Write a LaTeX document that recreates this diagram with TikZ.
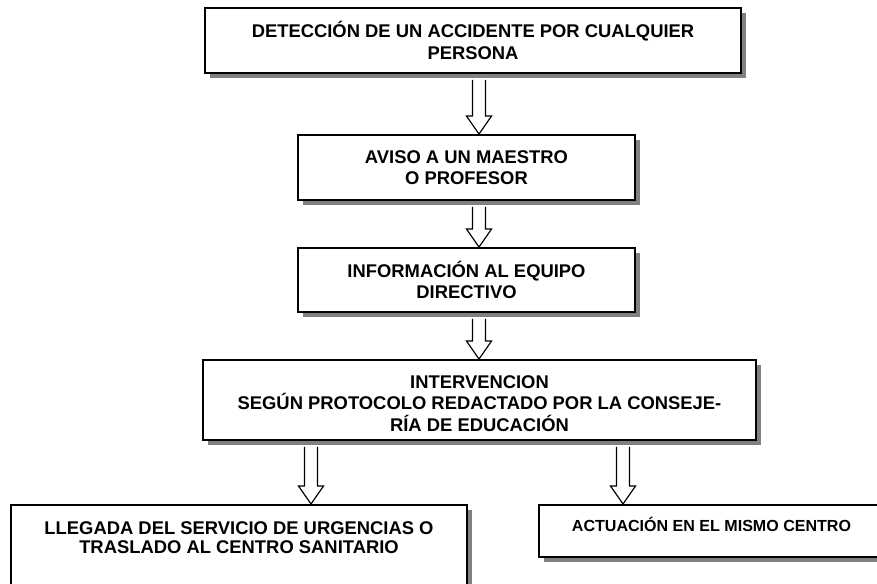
\documentclass[tikz,border=0pt]{standalone}
\usepackage{fontspec}
\setmainfont{Liberation Sans}
\usetikzlibrary{calc,positioning,shadows}

\begin{document}
\begin{tikzpicture}[x=0.03cm,y=-0.03cm]

\tikzset{box/.style={draw=black,line width=1.6pt,fill=white,align=center,inner sep=0pt,font=\fontsize{15.7}{18.5}\selectfont\bfseries,drop shadow={shadow xshift=0.15cm,shadow yshift=-0.15cm,fill=black!50,opacity=1}},
blockarrow/.style={line width=1pt,to path={let \p1=(\tikztostart), \p2=(\tikztotarget) in ({\x1-0.195cm},{\y1-0.18cm}) -- ({\x1-0.195cm},{\y2+0.54cm}) -- ({\x1-0.375cm},{\y2+0.54cm}) -- (\x1,\y2) -- ({\x1+0.375cm},{\y2+0.54cm}) -- ({\x1+0.195cm},{\y2+0.54cm}) -- ({\x1+0.195cm},{\y1-0.18cm})}}}

\useasboundingbox (0,0) rectangle (877,583);

% Boxes
\node[box,minimum width=16.08cm,minimum height=1.95cm] (b1) at (473,40.5) {DETECCIÓN DE UN ACCIDENTE POR CUALQUIER\\PERSONA};
\node[box,minimum width=10.11cm,minimum height=1.95cm] (b2) at (466.5,167.5) {AVISO A UN MAESTRO\\O PROFESOR};
\node[box,minimum width=10.11cm,minimum height=1.92cm] (b3) at (466.5,280) {INFORMACIÓN AL EQUIPO\\DIRECTIVO};
\node[box,minimum width=16.59cm,minimum height=2.4cm,text height=1.92cm,text depth=0.03cm] (b4) at (479.5,400) {INTERVENCION\\SEGÚN PROTOCOLO REDACTADO POR LA CONSEJE-\\RÍA DE EDUCACIÓN};
\node[box,anchor=north,minimum width=13.68cm,text height=1.47cm,text depth=1.71cm,font=\fontsize{15.7}{16.5}\selectfont\bfseries] (b5) at (239,504) {LLEGADA DEL SERVICIO DE URGENCIAS O\\TRASLADO AL CENTRO SANITARIO};
\node[box,anchor=north,minimum width=10.35cm,text height=0.81cm,text depth=0.75cm,font=\fontsize{13.7}{16}\selectfont\bfseries] (b6) at (711.5,504) {ACTUACIÓN EN EL MISMO CENTRO};

% Arrows
\coordinate (ax) at (479,0);
\coordinate (l5) at (311,0);
\coordinate (l6) at (623,0);
\foreach \a/\b in {b1/b2,b2/b3,b3/b4} \draw[blockarrow] (\a.south -| ax) to (\b.north -| ax);
\draw[blockarrow] (b4.south -| l5) to (b5.north -| l5);
\draw[blockarrow] (b4.south -| l6) to (b6.north -| l6);

\end{tikzpicture}
\end{document}
